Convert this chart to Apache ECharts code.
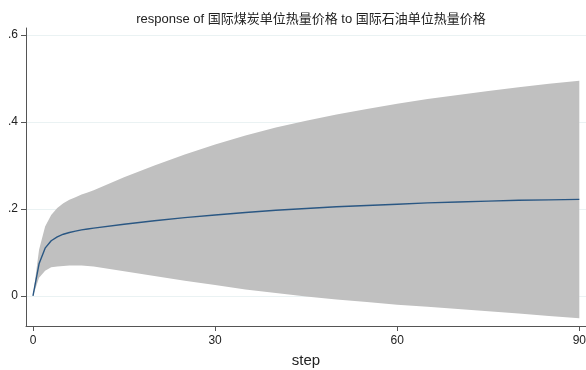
<!DOCTYPE html>
<html>
<head>
<meta charset="utf-8">
<script src="https://cdn.jsdelivr.net/npm/echarts@6/dist/echarts.min.js"></script>
<style>html,body{margin:0;padding:0;background:#fff}#c{width:586px;height:370px}</style>
</head>
<body>
<div id="c"></div>
<script>
var titleText = 'response of 国际煤炭单位热量价格 to 国际石油单位热量价格';
var xName = 'step';
var steps = [0,1,2,3,4,5,6,7,8,9,10,15,20,25,30,35,40,45,50,55,60,65,70,75,80,85,90];
var irf   = [0,0.074,0.110,0.127,0.136,0.142,0.146,0.149,0.152,0.154,0.156,0.165,0.173,0.180,0.186,0.192,0.197,0.201,0.205,0.208,0.211,0.214,0.216,0.218,0.220,0.221,0.222];
var upper = [0,0.106,0.160,0.186,0.202,0.213,0.221,0.227,0.233,0.238,0.243,0.273,0.300,0.325,0.348,0.369,0.387,0.403,0.417,0.430,0.442,0.453,0.462,0.471,0.480,0.488,0.495];
var lower = [0,0.042,0.058,0.066,0.068,0.069,0.070,0.070,0.070,0.069,0.068,0.057,0.046,0.035,0.025,0.015,0.007,-0.001,-0.008,-0.014,-0.020,-0.025,-0.030,-0.035,-0.040,-0.046,-0.051];
var xTicks = [0,30,60,90];
var yTicks = [0,0.2,0.4,0.6];

var font = '"Liberation Sans","Noto Sans CJK SC",sans-serif';
var bandData = steps.map(function(s,i){return [s, lower[i], upper[i]];});
var irfData = steps.map(function(s,i){return [s, irf[i]];});

function renderBand(params, api){
  if (params.dataIndex !== 0) return null;
  var pts = [];
  for (var i=0;i<steps.length;i++) pts.push(api.coord([steps[i], upper[i]]));
  for (var j=steps.length-1;j>=0;j--) pts.push(api.coord([steps[j], lower[j]]));
  return {type:'polygon', shape:{points:pts}, style:{fill:'#c0c0c0', stroke:'none'}};
}

var chart = echarts.init(document.getElementById('c'), null, {renderer:'canvas'});
chart.setOption({
  animation:false,
  backgroundColor:'#ffffff',
  title:{text:titleText,left:306,textAlign:'center',top:8,
    textStyle:{fontFamily:font,fontSize:13,fontWeight:'normal',color:'#222'}},
  grid:{left:26,right:0,top:28,bottom:44,containLabel:false,outerBoundsMode:'none'},
  xAxis:{type:'value',min:-1.15,max:91.1,
    name:xName,nameLocation:'middle',nameGap:27,
    nameTextStyle:{fontFamily:font,fontSize:15,color:'#222'},
    axisLine:{show:true,onZero:false,lineStyle:{color:'#555',width:1}},
    axisTick:{show:true,length:5,lineStyle:{color:'#555'},customValues:xTicks},
    axisLabel:{fontFamily:font,fontSize:12,color:'#222',margin:9,customValues:xTicks,showMinLabel:true,showMaxLabel:true},
    splitLine:{show:false}},
  yAxis:{type:'value',min:-0.069,max:0.616,
    axisLine:{show:true,onZero:false,lineStyle:{color:'#555',width:1}},
    axisTick:{show:true,length:5,lineStyle:{color:'#555'},customValues:yTicks},
    axisLabel:{fontFamily:font,fontSize:12,color:'#222',margin:8,customValues:yTicks,
      formatter:function(v){ if(Math.abs(v)<1e-9) return '0'; return String(+v.toFixed(2)).replace(/^0\./,'.').replace(/^-0\./,'-.');}},
    splitLine:{show:true,lineStyle:{color:'#eaf2f3',width:1}}},
  series:[
    {type:'custom',data:bandData,renderItem:renderBand,clip:true,silent:true,z:2,
      encode:{x:0,y:[1,2]}},
    {type:'line',data:irfData,symbol:'none',lineStyle:{color:'#2a5783',width:1.4},z:3}
  ]
});
</script>
</body>
</html>
